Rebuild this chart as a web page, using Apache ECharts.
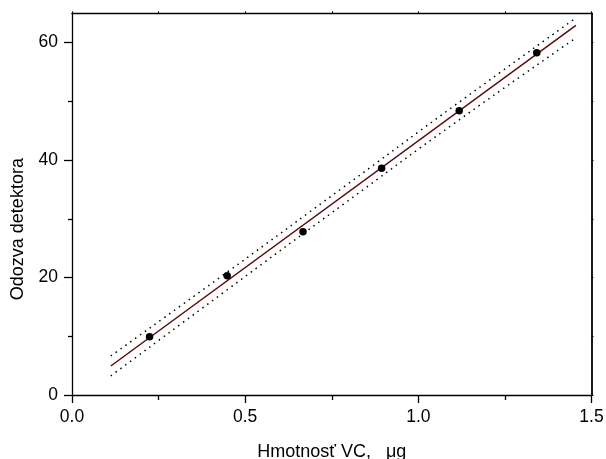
<!DOCTYPE html>
<html>
<head>
<meta charset="utf-8">
<script src="https://cdn.jsdelivr.net/npm/echarts@6/dist/echarts.min.js"></script>
<style>html,body{margin:0;padding:0;background:#fff}#c{width:606px;height:459px}</style>
</head>
<body>
<div id="c"></div>
<script>
// Measured points
const xData = [0.224, 0.448, 0.667, 0.894, 1.118, 1.342];
const yData = [9.9, 20.3, 27.8, 38.6, 48.4, 58.3];
// Fitted line (endpoints)
const fitX = [0.112, 1.455];
const fitY = [4.94, 62.94];
// Dotted bands
const bandX = [0.112, 0.45, 0.784, 1.10, 1.45];
const bandUpper = [6.65, 21.0, 35.4, 49.1, 64.0];
const bandLower = [3.25, 18.0, 32.5, 46.1, 60.6];
// Ticks
const xMajor = [0, 0.5, 1.0, 1.5];
const xMinor = [0.25, 0.75, 1.25];
const yMajor = [0, 20, 40, 60];
const yMinor = [10, 30, 50];

const font = 'Liberation Sans, Arial, sans-serif';
const axColor = '#000';
const pairs = (xs, ys) => xs.map((x, i) => [x, ys[i]]);

function mkX(opts) {
  return Object.assign({
    type: 'value', min: 0, max: 1.5, gridIndex: 0,
    axisLine: { show: true, onZero: false, lineStyle: { color: axColor, width: 1.3 } },
    splitLine: { show: false },
    axisLabel: { show: false },
  }, opts);
}
function mkY(opts) {
  return Object.assign({
    type: 'value', min: 0, max: 65, gridIndex: 0,
    axisLine: { show: true, onZero: false, lineStyle: { color: axColor, width: 1.3 } },
    splitLine: { show: false },
    axisLabel: { show: false },
  }, opts);
}

const option = {
  animation: false,
  backgroundColor: '#fff',
  grid: { left: 72, right: 14.5, top: 13.3, bottom: 64, containLabel: false, outerBoundsMode: 'none' },
  xAxis: [
    mkX({
      position: 'bottom',
      name: 'Hmotnosť VC,   μg', nameLocation: 'middle', nameGap: 48,
      nameTextStyle: { fontFamily: font, fontSize: 18, color: '#000' },
      axisTick: { show: true, inside: false, length: 8, customValues: xMajor, lineStyle: { color: axColor, width: 1.3 } },
      axisLabel: { show: true, customValues: xMajor, margin: 13, fontFamily: font, fontSize: 17.5, color: '#000',
        formatter: v => v.toFixed(1) }
    }),
    mkX({
      position: 'bottom',
      axisLine: { show: false },
      axisTick: { show: true, inside: false, length: 5, customValues: xMinor, lineStyle: { color: axColor, width: 1.3 } }
    }),
    mkX({
      position: 'top',
      axisTick: { show: true, inside: false, length: 2, customValues: xMajor.concat(xMinor), lineStyle: { color: axColor, width: 1 } }
    })
  ],
  yAxis: [
    mkY({
      position: 'left',
      name: 'Odozva detektora', nameLocation: 'middle', nameGap: 45, nameRotate: 90,
      nameTextStyle: { fontFamily: font, fontSize: 18, color: '#000', padding: [0, 50, 0, 0] },
      axisTick: { show: true, inside: false, length: 8, customValues: yMajor, lineStyle: { color: axColor, width: 1.3 } },
      axisLabel: { show: true, customValues: yMajor, margin: 14, fontFamily: font, fontSize: 17.5, color: '#000' }
    }),
    mkY({
      position: 'left',
      axisLine: { show: false },
      axisTick: { show: true, inside: false, length: 4, customValues: yMinor, lineStyle: { color: axColor, width: 1.3 } }
    }),
    mkY({
      position: 'right',
      axisLine: { show: true, onZero: false, lineStyle: { color: axColor, width: 1.8 } },
      axisTick: { show: true, inside: false, length: 2, customValues: yMajor.concat(yMinor), lineStyle: { color: axColor, width: 1 } }
    })
  ],
  series: [
    {
      type: 'line', data: pairs(bandX, bandUpper), showSymbol: false, smooth: true,
      lineStyle: { color: '#000', width: 1.5, type: [1.5, 4.5] }, z: 2
    },
    {
      type: 'line', data: pairs(bandX, bandLower), showSymbol: false, smooth: true,
      lineStyle: { color: '#000', width: 1.5, type: [1.5, 4.5] }, z: 2
    },
    {
      type: 'line', data: pairs(fitX, fitY), showSymbol: false,
      lineStyle: { color: '#5a0a0a', width: 1.5 }, z: 3
    },
    {
      type: 'scatter', data: pairs(xData, yData), symbol: 'circle', symbolSize: 7.5,
      itemStyle: { color: '#000', opacity: 1 }, z: 4
    }
  ]
};
echarts.init(document.getElementById('c'), null, { renderer: 'canvas' }).setOption(option);
</script>
</body>
</html>
